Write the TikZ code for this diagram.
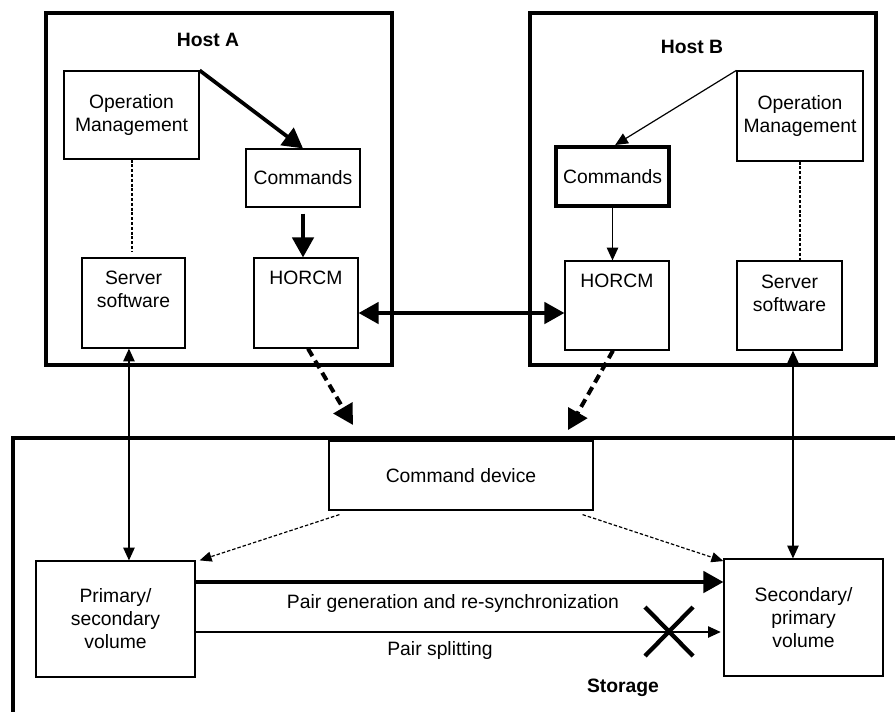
\documentclass[tikz,border=0pt]{standalone}
\usepackage{fontspec}
\setmainfont{Liberation Sans}
\usetikzlibrary{arrows.meta,calc}
\begin{document}
\begin{tikzpicture}[x=0.75pt,y=-0.75pt,
  every node/.style={font=\fontsize{14.5}{17.25}\selectfont},
  box/.style args={#1/#2}{draw,line width=0.9pt,rectangle,inner sep=0pt,
     minimum width=#1*0.75pt,minimum height=#2*0.75pt,align=center},
  hostbox/.style={line width=3.4pt},
  cmdbox/.style={line width=3pt},
  title/.style={font=\fontsize{14.5}{17.25}\selectfont\bfseries,inner sep=0pt},
  inbox/.style={anchor=north,inner sep=0pt,align=center},
  plain/.style={inner sep=0pt},
  bigtip/.tip={Triangle[length=15pt,width=16pt]},
  thintip/.tip={Triangle[length=9.5pt,width=8.5pt]},
  dottip/.tip={Triangle[length=9pt,width=7.5pt]},
  thickarr/.style={line width=2.8pt,-bigtip,shorten >=0pt},
  dblarr/.style={line width=2.8pt,bigtip-bigtip},
  thinarr/.style={line width=0.9pt,-thintip},
  thindbl/.style={line width=0.9pt,thintip-thintip},
  dashedarr/.style={line width=3pt,dash pattern=on 6.5pt off 4pt,-bigtip},
  dotline/.style={line width=0.9pt,dash pattern=on 2.2pt off 1.4pt},
  dotarr/.style={line width=0.9pt,dash pattern=on 2.6pt off 1.5pt,-dottip},
  storageline/.style={line width=3.6pt},
  xmark/.style={line width=3.2pt}
]
\useasboundingbox (0,0) rectangle (895,711);

% ---------- Host A ----------
\node[box=346/352,hostbox] (HostA) at (219,189) {};
\node[title] (HostAt) at (208,40) {Host A};
\node[box=135/88] (OpA) at (131.5,115) {Operation\\Management};
\node[box=114/58] (CmdA) at (303,178) {Commands};
\node[box=103/90] (SrvA) at (133.5,303) {};
\node[inbox] (SrvAt) at ([yshift=-9.75pt]SrvA.north) {Server\\software};
\node[box=104/90] (HorA) at (306,303) {};
\node[inbox] (HorAt) at ([yshift=-9.75pt]HorA.north) {HORCM};

% ---------- Host B ----------
\node[box=346/352,hostbox] (HostB) at (703,189) {};
\node[title] (HostBt) at (692,47) {Host B};
\node[box=126/90] (OpB) at (800,116) {Operation\\Management};
\node[box=113/59,cmdbox] (CmdB) at (612.5,176.5) {Commands};
\node[box=104/89] (HorB) at (617,305.5) {};
\node[inbox] (HorBt) at ([yshift=-9.75pt]HorB.north) {HORCM};
\node[box=105/89] (SrvB) at (789.5,305.5) {};
\node[inbox] (SrvBt) at ([yshift=-10.5pt]SrvB.north) {Server\\software};

% ---------- Storage ----------
\draw[storageline] (910,438) -- (13,438) -- (13,730);
\node[title] (StorT) at (623,688) {Storage};
\node[box=264/69] (CmdDev) at (461,475.5) {Command device};
\node[box=159/116] (PV) at (115.5,619) {Primary/\\secondary\\volume};
\node[box=159/117] (SV) at (803.5,617.5) {Secondary/\\primary\\volume};

% ---------- connectors in Host A ----------
\draw[thickarr] (OpA.north east) -- (CmdA.north);
\draw[thickarr] ([yshift=-4.5pt]CmdA.south) -- (CmdA.south |- HorA.north);
\draw[dotline] ([xshift=0.4pt]OpA.south) -- ([xshift=0.4pt,yshift=4.5pt]OpA.south |- SrvA.north);

% ---------- connectors in Host B ----------
\draw[thinarr] (OpB.north west) -- ([xshift=2pt]CmdB.north);
\draw[thinarr] (CmdB.south) -- (CmdB.south |- HorB.north);
\draw[dotline] (OpB.south) -- (OpB.south |- SrvB.north);

% ---------- HORCM to HORCM ----------
\coordinate (hA) at ([yshift=-7.5pt]HorA.east);
\draw[dblarr] (hA) -- (hA -| HorB.west);

% ---------- HORCM to command device ----------
\coordinate (cdA) at (353,425);
\coordinate (cdB) at (568,430);
\draw[dashedarr] ([xshift=1.5pt]HorA.south) -- (cdA);
\draw[dashedarr] ([xshift=-3pt]HorB.south) -- (cdB);

% ---------- server software to volumes ----------
\coordinate (sA) at ([xshift=-3.4pt]SrvA.south);
\draw[thindbl] (sA) -- (sA |- PV.north);
\coordinate (sB) at ([xshift=2.6pt]SrvB.south);
\draw[thindbl] (sB) -- (sB |- SV.north);

% ---------- command device to volumes ----------
\draw[dotarr] ([shift={(8.25pt,-3pt)}]CmdDev.south west) -- ([xshift=3pt]PV.north east);
\draw[dotarr] ([shift={(-8.25pt,-3pt)}]CmdDev.south east) -- ([yshift=-2pt]SV.north west);

% ---------- volume pair arrows ----------
\coordinate (g1) at ([yshift=27.75pt]PV.east);
\draw[thickarr] (g1) -- (g1 -| SV.west);
\node[plain] (PairGen) at (453,603) {Pair generation and re-synchronization};
\coordinate (s1) at ([yshift=-9.75pt]PV.east);
\draw[thinarr] (s1) -- ([xshift=-2pt]s1 -| SV.west);
\node[plain] (PairSplit) at (440,650) {Pair splitting};
\draw[xmark] (645,607) -- (693,656) (645,656) -- (693,607);
\end{tikzpicture}
\end{document}
